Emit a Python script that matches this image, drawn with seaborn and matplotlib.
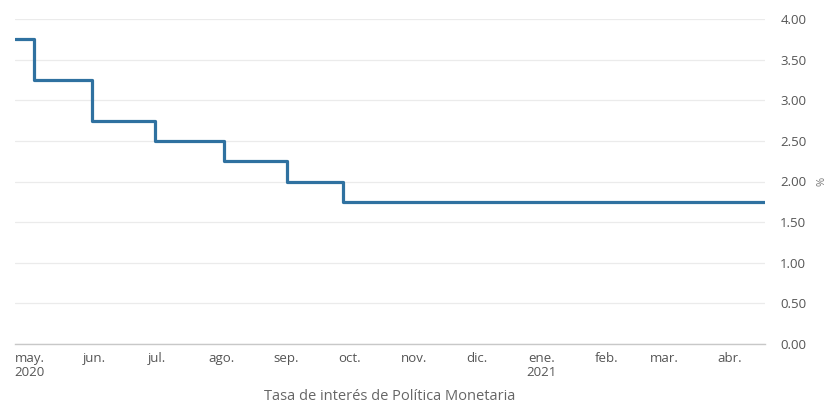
import pandas as pd
import matplotlib
matplotlib.use("Agg")
import matplotlib.pyplot as plt
import seaborn as sns

# fechas de cambio de la tasa (ultimo punto = fin de la serie)
fechas = ["2020-04-24", "2020-05-03", "2020-05-31", "2020-06-30",
          "2020-08-02", "2020-09-01", "2020-09-28", "2021-04-18"]
tasas = [3.75, 3.25, 2.75, 2.50, 2.25, 2.00, 1.75, 1.75]

meses = ["2020-05-01", "2020-06-01", "2020-07-01", "2020-08-01",
         "2020-09-01", "2020-10-01", "2020-11-01", "2020-12-01",
         "2021-01-01", "2021-02-01", "2021-03-01", "2021-04-01"]
etiquetas = ["may.\n2020", "jun.", "jul.", "ago.", "sep.", "oct.", "nov.",
             "dic.", "ene.\n2021", "feb.", "mar.", "abr."]

y_ticks = [0, 0.5, 1.0, 1.5, 2.0, 2.5, 3.0, 3.5, 4.0]

df = pd.DataFrame({"fecha": pd.to_datetime(fechas), "tasa": tasas})

sns.set_theme(style="white")
plt.rcParams["font.family"] = ["Open Sans", "DejaVu Sans"]

fig = plt.figure(figsize=(8.28, 4.08), dpi=100)
ax = fig.add_axes([15 / 828, 64 / 408, 750 / 828, 325 / 408])

sns.lineplot(data=df, x="fecha", y="tasa", drawstyle="steps-post",
             color="#2f71a0", linewidth=2.3, ax=ax)

ax.set_xlim(df["fecha"].min(), df["fecha"].max())
ax.set_ylim(0, 4)

# eje y a la derecha
ax.yaxis.tick_right()
ax.yaxis.set_label_position("right")
ax.set_yticks(y_ticks)
ax.set_yticklabels([f"{v:.2f}" for v in y_ticks])
ax.set_ylabel("%", rotation=90, color="#777777", fontsize=8, labelpad=7)

ax.set_xticks(pd.to_datetime(meses))
ax.set_xticklabels(etiquetas, ha="center", va="top", linespacing=1.1)

ax.tick_params(axis="y", length=0, pad=11, labelsize=9.5, colors="#555555")
ax.tick_params(axis="x", length=0, pad=6, labelsize=9.5, colors="#555555")

ax.grid(axis="y", color="#ebebeb", linewidth=0.9)
ax.grid(axis="x", visible=False)
for side in ["top", "left", "right"]:
    ax.spines[side].set_visible(False)
ax.spines["bottom"].set_color("#c8c8c8")
ax.spines["bottom"].set_linewidth(1.0)
ax.set_xlabel("")

fig.text(390 / 828, 1 - 397 / 408, "Tasa de interés de Política Monetaria",
         ha="center", va="center", fontsize=10.5, color="#666666")

fig.savefig("out.png", dpi=100, facecolor="white")
